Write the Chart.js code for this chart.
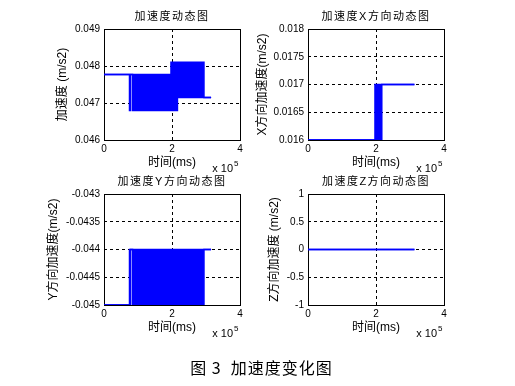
<!DOCTYPE html>
<html><head><meta charset="utf-8">
<script src="https://cdn.jsdelivr.net/npm/chart.js@4.4.0/dist/chart.umd.min.js"></script>
<style>
html,body{margin:0;padding:0;background:#fff;}
#wrap{position:relative;width:515px;height:386px;overflow:hidden;background:#fff}
canvas{position:absolute;left:0;top:0}
#cap{position:absolute;left:4px;width:515px;top:357px;height:20px;line-height:20px;text-align:center;font-size:16px;font-family:'Noto Sans CJK SC',sans-serif;letter-spacing:1px;color:#000;white-space:pre}
</style></head><body>
<div id="wrap">
<canvas id="c1" width="515" height="386"></canvas>
<canvas id="c2" width="515" height="386"></canvas>
<canvas id="c3" width="515" height="386"></canvas>
<canvas id="c4" width="515" height="386"></canvas>
<div id="cap">图 3  加速度变化图</div>
</div>
<script>
// ---- data (x in units of 1e5 ms) ----
const xTicks = [0, 2, 4];
const xLabels = ['0', '2', '4'];

// Plot 1: total acceleration (upper / lower envelope of the dense signal)
const xP1  = [0, 0.75, 0.75, 0.78, 0.78, 0.84, 0.84, 1.97, 1.97, 2.16, 2.16, 2.94, 2.94, 3.15];
const hiP1 = [0.04777, 0.04777, 0.04777, 0.04777, 0.04777, 0.04777, 0.04777, 0.04777, 0.0481, 0.0481, 0.0481, 0.0481, 0.04715, 0.04715];
const loP1 = [0.04777, 0.04777, 0.0468, 0.0468, 0.04777, 0.04777, 0.0468, 0.0468, 0.0468, 0.0468, 0.04715, 0.04715, 0.04715, 0.04715];
const yTicks1 = [0.046, 0.047, 0.048, 0.049];
const yLabels1 = ['0.046', '0.047', '0.048', '0.049'];

// Plot 2: X direction
const xP2  = [0, 1.97, 1.97, 2.17, 2.17, 3.13];
const hiP2 = [0.016, 0.016, 0.017, 0.017, 0.017, 0.017];
const loP2 = [0.016, 0.016, 0.016, 0.016, 0.017, 0.017];
const yTicks2 = [0.016, 0.0165, 0.017, 0.0175, 0.018];
const yLabels2 = ['0.016', '0.0165', '0.017', '0.0175', '0.018'];

// Plot 3: Y direction
const xP3  = [0, 0.75, 0.75, 0.78, 0.78, 0.84, 0.84, 2.94, 2.94, 3.15];
const hiP3 = [-0.045, -0.045, -0.044, -0.044, -0.044, -0.044, -0.044, -0.044, -0.044, -0.044];
const loP3 = [-0.045, -0.045, -0.045, -0.045, -0.044, -0.044, -0.045, -0.045, -0.044, -0.044];
const yTicks3 = [-0.045, -0.0445, -0.044, -0.0435, -0.043];
const yLabels3 = ['-0.045', '-0.0445', '-0.044', '-0.0435', '-0.043'];

// Plot 4: Z direction
const xP4  = [0, 3.13];
const hiP4 = [0, 0];
const loP4 = [0, 0];
const yTicks4 = [-1, -0.5, 0, 0.5, 1];
const yLabels4 = ['-1', '-0.5', '0', '0.5', '1'];

const titles = ['加速度动态图', '加速度X方向动态图', '加速度Y方向动态图', '加速度Z方向动态图'];
const yTitles = ['加速度 (m/s2)', 'X方向加速度(m/s2)', 'Y方向加速度(m/s2)', 'Z方向加速度 (m/s2)'];
const xTitle = '时间(ms)';

// ---- drawing ----
const BLUE = '#0000ff';
const FAM = "'Liberation Sans', Arial, 'Noto Sans CJK SC', sans-serif";

function pts(xs, ys) { return xs.map((x, i) => ({x: x, y: ys[i]})); }

function makeChart(id, o) {
  const W = 515, H = 386;
  const lh = 12 * 1.2;
  const padLeft = o.yTitleX - lh / 2;
  const yW = o.area.left - padLeft;
  const xBottom = o.area.bottom + 23 + lh / 2;
  const xH = xBottom - o.area.bottom;
  const deco = {
    id: 'deco' + id,
    beforeDatasetsDraw(chart) {
      const c = chart.ctx, a = chart.chartArea;
      c.save();
      c.strokeStyle = '#000'; c.lineWidth = 1;
      c.strokeRect(Math.round(a.left) + 0.5, Math.round(a.top) + 0.5,
                   Math.round(a.right - a.left), Math.round(a.bottom - a.top));
      c.restore();
    },
    afterDraw(chart) {
      const c = chart.ctx, a = chart.chartArea;
      c.save();
      c.fillStyle = '#000';
      c.textBaseline = 'middle';
      c.textAlign = 'center';
      c.font = '11px ' + FAM;
      try { c.letterSpacing = '1.5px'; } catch (e) {}
      c.fillText(o.title, (a.left + a.right) / 2, a.top - 12);
      try { c.letterSpacing = '0px'; } catch (e) {}
      c.textAlign = 'right';
      c.font = '11px ' + FAM;
      c.fillText('x 10', a.right - 7, a.bottom + 29);
      c.textAlign = 'left';
      c.font = '8px ' + FAM;
      c.fillText('5', a.right - 6, a.bottom + 24);
      c.restore();
    }
  };
  return new Chart(document.getElementById(id), {
    type: 'line',
    data: {
      datasets: [
        { data: pts(o.xs, o.hi), borderColor: BLUE, backgroundColor: BLUE, borderWidth: 1.5,
          pointRadius: 0, fill: false, tension: 0 },
        { data: pts(o.xs, o.lo), borderColor: BLUE, backgroundColor: BLUE, borderWidth: 1.5,
          pointRadius: 0, fill: '-1', tension: 0 }
      ]
    },
    options: {
      responsive: false, animation: false, devicePixelRatio: 1,
      layout: { padding: { left: padLeft, top: o.area.top, right: W - o.area.right, bottom: H - xBottom } },
      plugins: { legend: { display: false }, tooltip: { enabled: false }, title: { display: false } },
      scales: {
        x: {
          type: 'linear', min: 0, max: 4,
          afterBuildTicks: s => { s.ticks = xTicks.map(v => ({value: v})); },
          afterFit: s => { s.height = xH; },
          ticks: { callback: (v, i) => xLabels[i], font: { size: 10, family: FAM }, color: '#000', padding: 3, autoSkip: false, maxRotation: 0 },
          grid: { color: c => (c.index === 0 || c.index === xTicks.length - 1) ? 'rgba(0,0,0,0)' : '#000', lineWidth: 1, drawTicks: false },
          border: { display: false, dash: [3, 3] },
          title: { display: true, text: xTitle, font: { size: 12, family: FAM }, color: '#000', padding: 0 }
        },
        y: {
          type: 'linear', min: o.yTicks[0], max: o.yTicks[o.yTicks.length - 1],
          afterBuildTicks: s => { s.ticks = o.yTicks.map(v => ({value: v})); },
          afterFit: s => { s.width = yW; },
          ticks: { callback: (v, i) => o.yLabels[i], font: { size: 10, family: FAM }, color: '#000', padding: 4, autoSkip: false },
          grid: { color: c => (c.index === 0 || c.index === o.yTicks.length - 1) ? 'rgba(0,0,0,0)' : '#000', lineWidth: 1, drawTicks: false },
          border: { display: false, dash: [3, 3] },
          title: { display: true, text: o.yTitle, font: { size: 12, family: FAM }, color: '#000', padding: 0 }
        }
      }
    },
    plugins: [deco]
  });
}

makeChart('c1', { title: titles[0], yTitle: yTitles[0], xs: xP1, hi: hiP1, lo: loP1, yTicks: yTicks1, yLabels: yLabels1,
  area: { left: 104, top: 29, right: 240, bottom: 140 }, yTitleX: 63 });
makeChart('c2', { title: titles[1], yTitle: yTitles[1], xs: xP2, hi: hiP2, lo: loP2, yTicks: yTicks2, yLabels: yLabels2,
  area: { left: 308, top: 29, right: 444, bottom: 140 }, yTitleX: 263 });
makeChart('c3', { title: titles[2], yTitle: yTitles[2], xs: xP3, hi: hiP3, lo: loP3, yTicks: yTicks3, yLabels: yLabels3,
  area: { left: 104, top: 194, right: 240, bottom: 305 }, yTitleX: 54 });
makeChart('c4', { title: titles[3], yTitle: yTitles[3], xs: xP4, hi: hiP4, lo: loP4, yTicks: yTicks4, yLabels: yLabels4,
  area: { left: 308, top: 194, right: 444, bottom: 305 }, yTitleX: 275 });
</script>
</body></html>
